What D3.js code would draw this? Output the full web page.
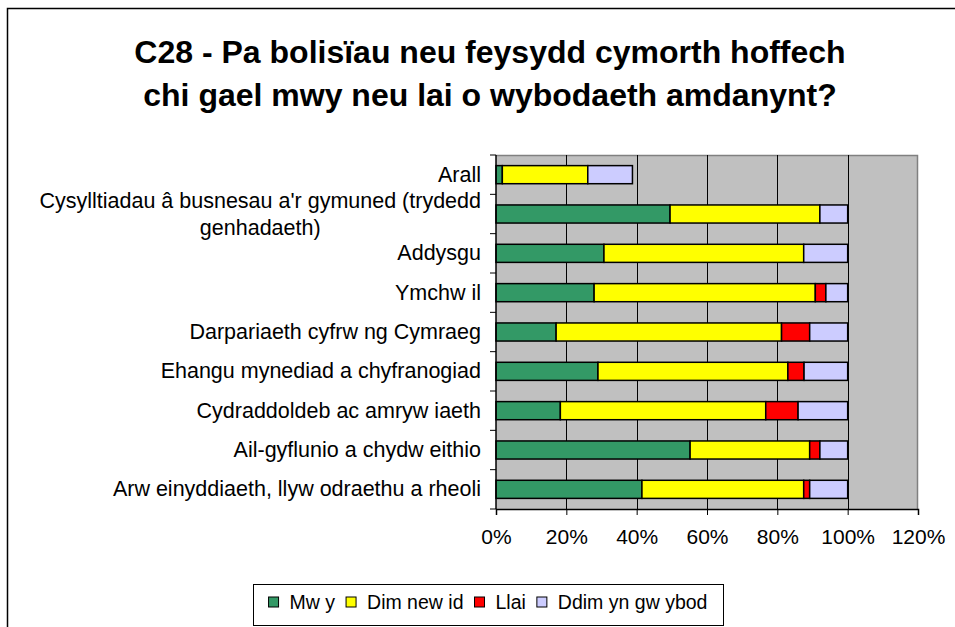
<!DOCTYPE html>
<html>
<head>
<meta charset="utf-8">
<script src="https://cdn.jsdelivr.net/npm/d3@7"></script>
<style>
  html, body { margin: 0; padding: 0; background: #fff; }
  svg { display: block; font-family: Arial, "Liberation Sans", sans-serif; }
</style>
</head>
<body>
<svg id="chart" width="955" height="627"></svg>
<script>
// ---- data ----
const titleLines = ["C28 - Pa bolisïau neu feysydd cymorth hoffech", "chi gael mwy neu lai o wybodaeth amdanynt?"];
const categories = [
  "Arall",
  "Cysylltiadau â busnesau a'r gymuned (trydedd genhadaeth)",
  "Addysgu",
  "Ymchw il",
  "Darpariaeth cyfrw ng Cymraeg",
  "Ehangu mynediad a chyfranogiad",
  "Cydraddoldeb ac amryw iaeth",
  "Ail-gyflunio a chydw eithio",
  "Arw einyddiaeth, llyw odraethu a rheoli"
];
const seriesNames = ["Mw y", "Dim new id", "Llai", "Ddim yn gw ybod"];
const mwy       = [1.8, 49.5, 30.7, 27.9, 17.1, 29.0, 18.3, 55.2, 41.5];
const dimNewid  = [24.3, 42.6, 56.8, 62.9, 64.1, 54.0, 58.4, 34.0, 46.0];
const llai      = [0.0, 0.0, 0.0, 3.0, 8.0, 4.6, 9.2, 2.9, 1.7];
const ddimGwybod= [12.7, 7.9, 12.5, 6.2, 10.8, 12.4, 14.1, 7.9, 10.8];
const xTicks = [0, 20, 40, 60, 80, 100, 120];
const colors = ["#339966", "#FFFF00", "#FF0000", "#CCCCFF"];

// ---- layout ----
const svg = d3.select("#chart");
const plot = { left: 496, right: 918, top: 155, bottom: 509 };

// frame
svg.append("path")
  .attr("d", "M7.5,640 V8.5 H960")
  .attr("fill", "none").attr("stroke", "#000").attr("stroke-width", 1.5);

// title
svg.append("g").selectAll("text").data(titleLines).join("text")
  .attr("x", 490).attr("y", (d, i) => 63 + i * 43)
  .attr("text-anchor", "middle")
  .attr("font-size", 32).attr("font-weight", "bold")
  .attr("fill", "#000")
  .text(d => d);

const x = d3.scaleLinear().domain([0, 120]).range([plot.left, plot.right]);
const y = d3.scaleBand().domain(categories).range([plot.top, plot.bottom])
  .paddingInner(0.54).paddingOuter(0.27);

// plot background
svg.append("rect")
  .attr("x", plot.left).attr("y", plot.top)
  .attr("width", plot.right - plot.left).attr("height", plot.bottom - plot.top)
  .attr("fill", "#C0C0C0");
svg.append("path")
  .attr("d", `M${plot.left},${plot.top + 0.5} H${plot.right - 0.5} V${plot.bottom}`)
  .attr("fill", "none").attr("stroke", "#808080").attr("stroke-width", 1.5);

// gridlines
svg.append("g").selectAll("line").data(xTicks.filter(t => t > 0 && t < 120)).join("line")
  .attr("x1", d => Math.round(x(d)) + 0.5).attr("x2", d => Math.round(x(d)) + 0.5)
  .attr("y1", plot.top).attr("y2", plot.bottom)
  .attr("stroke", "#000").attr("stroke-width", 1);

// stacked bars
const seriesValues = [mwy, dimNewid, llai, ddimGwybod];
const rows = categories.map((c, i) => {
  const r = { cat: c };
  seriesNames.forEach((s, k) => r[s] = seriesValues[k][i]);
  return r;
});
const stacked = d3.stack().keys(seriesNames)(rows);
svg.append("g").selectAll("g").data(stacked).join("g")
  .attr("fill", (d, i) => colors[i])
  .selectAll("rect").data(d => d.filter(p => p[1] - p[0] > 0)).join("rect")
  .attr("x", d => x(d[0]))
  .attr("y", d => y(d.data.cat))
  .attr("width", d => x(d[1]) - x(d[0]))
  .attr("height", y.bandwidth())
  .attr("stroke", "#000").attr("stroke-width", 1.5);

// x axis
const xAxis = d3.axisBottom(x).tickValues(xTicks).tickFormat(d => d + "%").tickSize(6).tickPadding(14);
const gx = svg.append("g").attr("transform", `translate(0,${plot.bottom})`).call(xAxis);
gx.select(".domain").attr("stroke", "#000").attr("stroke-width", 1.5);
gx.selectAll(".tick line").attr("stroke", "#000");
gx.selectAll(".tick text").attr("font-size", 21).attr("fill", "#000")
  .attr("font-family", "Arial, 'Liberation Sans', sans-serif");

// y axis line + ticks at band boundaries
svg.append("line")
  .attr("x1", plot.left).attr("x2", plot.left)
  .attr("y1", plot.top).attr("y2", plot.bottom)
  .attr("stroke", "#000").attr("stroke-width", 1.5);
const step = y.step();
const bounds = d3.range(categories.length + 1).map(i => plot.top + i * step);
svg.append("g").selectAll("line").data(bounds).join("line")
  .attr("x1", plot.left - 6).attr("x2", plot.left)
  .attr("y1", d => d).attr("y2", d => d)
  .attr("stroke", "#000").attr("stroke-width", 1);

// category labels (wrapped, centered block right-aligned)
const labelRight = 481;
const labelSize = 21.5;
const maxLabelW = 460;
const gl = svg.append("g").attr("font-size", labelSize).attr("fill", "#000");
categories.forEach(cat => {
  const cy = y(cat) + y.bandwidth() / 2;
  const t = gl.append("text").attr("text-anchor", "middle");
  const words = cat.split(" ");
  const lines = [];
  let cur = [];
  const probe = gl.append("text");
  words.forEach(w => {
    const test = cur.concat([w]).join(" ");
    probe.text(test);
    if (probe.node().getComputedTextLength() > maxLabelW && cur.length) {
      lines.push(cur.join(" "));
      cur = [w];
    } else cur.push(w);
  });
  lines.push(cur.join(" "));
  let maxW = 0;
  lines.forEach(l => { probe.text(l); maxW = Math.max(maxW, probe.node().getComputedTextLength()); });
  probe.remove();
  const lh = 27;
  const cx = labelRight - maxW / 2;
  lines.forEach((l, i) => {
    t.append("tspan")
      .attr("x", cx)
      .attr("y", cy + (i - (lines.length - 1) / 2) * lh + 7)
      .text(l);
  });
});

// legend
const lg = svg.append("g");
lg.append("rect")
  .attr("x", 253.5).attr("y", 584.5).attr("width", 470).attr("height", 41)
  .attr("fill", "#fff").attr("stroke", "#000").attr("stroke-width", 1);
const legendSize = 19.5;
const probe2 = lg.append("text").attr("font-size", legendSize);
const widths = seriesNames.map(s => { probe2.text(s); return probe2.node().getComputedTextLength(); });
probe2.remove();
const itemW = widths.map(w => 10 + 11 + w + 11);
const totalW = d3.sum(itemW) - 11;
let lx = 488 - totalW / 2;
seriesNames.forEach((s, i) => {
  lg.append("rect")
    .attr("x", lx).attr("y", 597).attr("width", 10).attr("height", 10)
    .attr("fill", colors[i]).attr("stroke", "#000").attr("stroke-width", 1);
  lg.append("text")
    .attr("x", lx + 21).attr("y", 609)
    .attr("font-size", legendSize).attr("fill", "#000")
    .text(s);
  lx += itemW[i];
});
</script>
</body>
</html>
